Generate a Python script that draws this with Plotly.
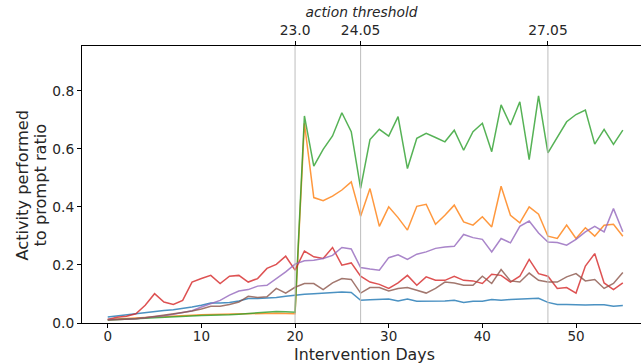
import plotly.graph_objects as go

days = list(range(56))

blue = [0.021, 0.025, 0.029, 0.032, 0.036, 0.040, 0.043, 0.046, 0.050, 0.055, 0.061,
        0.069, 0.069, 0.071, 0.076, 0.084, 0.084, 0.085, 0.088, 0.092, 0.096,
        0.099, 0.101, 0.103, 0.103, 0.107, 0.105, 0.078, 0.080, 0.081, 0.083,
        0.076, 0.083, 0.075, 0.075, 0.076, 0.076, 0.078, 0.071, 0.075, 0.075,
        0.081, 0.078, 0.081, 0.083, 0.084, 0.085, 0.071, 0.064, 0.064, 0.062,
        0.062, 0.063, 0.063, 0.058, 0.060]
orange = [0.012, 0.013, 0.015, 0.017, 0.019, 0.021, 0.022, 0.024, 0.026, 0.027, 0.028,
          0.029, 0.029, 0.030, 0.031, 0.032, 0.033, 0.034, 0.034, 0.033, 0.032,
          0.688, 0.432, 0.421, 0.437, 0.458, 0.486, 0.368, 0.463, 0.333, 0.400,
          0.363, 0.320, 0.402, 0.409, 0.340, 0.371, 0.406, 0.348, 0.337, 0.366,
          0.331, 0.471, 0.371, 0.345, 0.400, 0.375, 0.299, 0.291, 0.337, 0.291,
          0.328, 0.299, 0.337, 0.340, 0.299]
green = [0.010, 0.011, 0.012, 0.014, 0.016, 0.018, 0.020, 0.022, 0.024, 0.025, 0.026,
         0.027, 0.027, 0.028, 0.030, 0.032, 0.035, 0.038, 0.040, 0.039, 0.037,
         0.713, 0.540, 0.598, 0.644, 0.724, 0.659, 0.464, 0.632, 0.667, 0.644,
         0.711, 0.532, 0.636, 0.653, 0.639, 0.624, 0.664, 0.595, 0.659, 0.688,
         0.590, 0.751, 0.682, 0.762, 0.563, 0.782, 0.586, 0.639, 0.693, 0.718,
         0.733, 0.616, 0.667, 0.615, 0.664]
red = [0.012, 0.020, 0.023, 0.032, 0.061, 0.101, 0.072, 0.064, 0.078, 0.141, 0.153,
       0.164, 0.136, 0.161, 0.164, 0.141, 0.153, 0.188, 0.202, 0.230, 0.182,
       0.248, 0.228, 0.222, 0.260, 0.199, 0.207, 0.161, 0.141, 0.133, 0.119,
       0.138, 0.164, 0.130, 0.159, 0.147, 0.147, 0.161, 0.147, 0.145, 0.136,
       0.168, 0.164, 0.141, 0.161, 0.219, 0.170, 0.161, 0.119, 0.122, 0.103,
       0.196, 0.239, 0.138, 0.115, 0.138]
purple = [0.012, 0.012, 0.013, 0.015, 0.018, 0.021, 0.025, 0.030, 0.036, 0.042, 0.055,
          0.067, 0.078, 0.096, 0.110, 0.115, 0.127, 0.130, 0.153, 0.176, 0.203,
          0.214, 0.216, 0.222, 0.233, 0.260, 0.255, 0.191, 0.186, 0.182, 0.225,
          0.235, 0.219, 0.237, 0.245, 0.257, 0.262, 0.264, 0.305, 0.294, 0.288,
          0.245, 0.291, 0.276, 0.333, 0.351, 0.310, 0.279, 0.277, 0.268, 0.288,
          0.314, 0.333, 0.314, 0.394, 0.314]
brown = [0.010, 0.011, 0.013, 0.015, 0.018, 0.022, 0.026, 0.031, 0.036, 0.041, 0.048,
         0.058, 0.058, 0.064, 0.072, 0.092, 0.088, 0.090, 0.119, 0.103, 0.123,
         0.136, 0.136, 0.115, 0.138, 0.153, 0.150, 0.103, 0.122, 0.122, 0.110,
         0.119, 0.122, 0.113, 0.103, 0.119, 0.141, 0.138, 0.130, 0.130, 0.161,
         0.136, 0.184, 0.145, 0.141, 0.172, 0.147, 0.141, 0.141, 0.159, 0.170,
         0.145, 0.150, 0.119, 0.136, 0.174]

series = [blue, orange, green, red, purple, brown]
colors = ["#1f77b4", "#ff7f0e", "#2ca02c", "#d62728", "#9467bd", "#8c564b"]

threshold_days = [20, 27, 47]
threshold_labels = ["23.0", "24.05", "27.05"]

y_title_lines = ["Activity performed", "to prompt ratio"]
x_title = "Intervention Days"

x_range = [-2.75, 56.94]
y_range = [0.0, 0.954]

fig = go.Figure()
for vals, c in zip(series, colors):
    fig.add_trace(go.Scatter(x=days, y=vals, mode="lines",
                             line=dict(color=c, width=1.5), opacity=0.8,
                             showlegend=False, hoverinfo="skip"))

# dummy trace for top axis
fig.add_trace(go.Scatter(x=threshold_days, y=[None]*len(threshold_days), xaxis="x2",
                         mode="markers", showlegend=False, hoverinfo="skip"))

for d in threshold_days:
    fig.add_vline(x=d, line=dict(color="#bdbdbd", width=1))

for line, shift in zip(y_title_lines, [-60, -42]):
    fig.add_annotation(text=line, xref="paper", yref="paper", x=0, y=0.5,
                       xanchor="center", yanchor="middle", xshift=shift, yshift=-1,
                       textangle=-90, showarrow=False,
                       font=dict(size=16.2, color="#262626"))

# x-axis title (placed as annotation to control its position)
fig.add_annotation(text=x_title, xref="paper", yref="paper", x=0.5, y=0,
                   xanchor="center", yanchor="middle", xshift=3, yshift=-31,
                   showarrow=False, font=dict(size=15.8, color="#262626"))

font = "DejaVu Sans, sans-serif"
fig.update_layout(
    width=641, height=363,
    margin=dict(l=82, r=0, t=46, b=40),
    plot_bgcolor="white", paper_bgcolor="white",
    font=dict(family=font, color="#262626", size=13.8),
    xaxis=dict(range=x_range, showgrid=False, zeroline=False,
               showline=True, linecolor="black", linewidth=1,
               ticks="outside", ticklen=4, tickcolor="black",
               tickvals=[0, 10, 20, 30, 40, 50],
               ticklabelstandoff=-3,
               tickfont=dict(size=13.5)),
    xaxis2=dict(range=x_range, overlaying="x", side="top", showgrid=False,
                zeroline=False, showline=True, linecolor="black", linewidth=1,
                ticks="outside", ticklen=4, tickcolor="black",
                tickvals=threshold_days, ticktext=threshold_labels,
                tickfont=dict(size=13.8),
                title=dict(text="<i>action threshold</i>", font=dict(size=13.8), standoff=1)),
    yaxis=dict(range=y_range, showgrid=False, zeroline=False,
               showline=True, linecolor="black", linewidth=1,
               ticks="outside", ticklen=4, tickcolor="black",
               tickvals=[0, 0.2, 0.4, 0.6, 0.8], tickformat=".1f",
               tickfont=dict(size=13.8)),
)

fig.write_html("out.html")
